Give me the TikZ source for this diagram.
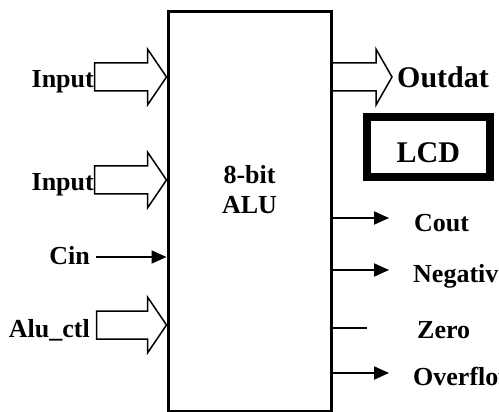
\documentclass[tikz,border=0pt]{standalone}
\usepackage{fontspec}
\setmainfont{Liberation Serif}
\usepackage{tikz}
\usetikzlibrary{arrows.meta,positioning}
% hollow bus arrow: tip, length, head length
\newcommand{\busarrow}[3]{%
  \draw[bus, shift={(#1)}] (-#2,-14) -- (-#3,-14) -- (-#3,-28) -- (0,0)
    -- (-#3,28) -- (-#3,14) -- (-#2,14) -- cycle;}

\begin{document}
\begin{tikzpicture}[x=1pt, y=-1pt,
    lbl/.style={font=\fontsize{26}{30}\selectfont\bfseries, inner sep=0pt},
    bus/.style={line width=1.5pt, fill=white, line join=miter},
    sig/.style={line width=2pt, -{Triangle[length=15pt,width=13pt]}},
    flag/.style={line width=2pt}
]
    \useasboundingbox (0,0) rectangle (499,412);
    % the ALU block
    \node[draw, line width=3pt, minimum width=163.5pt, minimum height=399.5pt,
          inner sep=0pt] (alu) at (249.75,211.25) {};
    \node[lbl, align=center] (name) at (249.5,190) {8-bit\\ALU};
    % inputs
    \coordinate (yA) at (0,77);
    \coordinate (yB) at (0,180);
    \coordinate (yC) at (0,257);
    \coordinate (yD) at (0,325);
    \coordinate (tA) at (alu.west |- yA);
    \coordinate (tB) at (alu.west |- yB);
    \coordinate (tD) at (alu.west |- yD);
    \busarrow{tA}{72}{19}
    \busarrow{tB}{72}{19}
    \busarrow{tD}{70}{19}
    \node[lbl, anchor=base east] (inA) at (94,88) {Input};
    \node[lbl, anchor=base east] (inB) at (94,191) {Input};
    \node[lbl, anchor=base east] (cin) at (90,265) {Cin};
    \node[lbl, anchor=base east] (ctl) at (90,337) {Alu\_ctl};
    \draw[sig] (cin.east |- yC) ++(6,0) -- (alu.west |- yC);
    % outputs
    \coordinate (tO) at (392,77);
    \busarrow{tO}{60}{16}
    \node[lbl, anchor=base west, font=\fontsize{30}{34}\selectfont\bfseries]
          (out) at (397,88) {Outdat};
    \node[draw, line width=8pt, minimum width=123.5pt, minimum height=60pt,
          text height=32pt, text depth=0pt, inner sep=0pt,
          font=\fontsize{30}{34}\selectfont\bfseries] (lcd) at (428.25,147) {LCD};
    \node[lbl, anchor=base west] (cout) at (414,232) {Cout};
    \node[lbl, anchor=base west] (neg) at (413,282) {Negative};
    \node[lbl, anchor=base west] (zero) at (417,338) {Zero};
    \node[lbl, anchor=base west] (ovf) at (413,385) {Overflow};
    \coordinate (eC) at (389,218);
    \coordinate (eN) at (389,270);
    \coordinate (eZ) at (367,328);
    \coordinate (eO) at (389,373);
    \draw[sig] (alu.east |- eC) -- (eC);
    \draw[sig] (alu.east |- eN) -- (eN);
    \draw[flag] (alu.east |- eZ) -- (eZ);
    \draw[sig] (alu.east |- eO) -- (eO);
\end{tikzpicture}
\end{document}
